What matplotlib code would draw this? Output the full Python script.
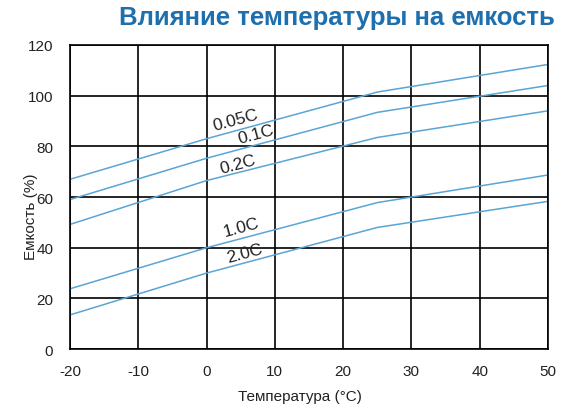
import matplotlib
matplotlib.use("Agg")
import matplotlib.pyplot as plt

# температура, °C
temp = [-20, 0, 25, 50]
# емкость (%) для разных токов разряда
cap_005 = [67, 83, 101.4, 112.3]
cap_01 = [59, 75.3, 93.4, 104]
cap_02 = [49.2, 66.5, 83.5, 94]
cap_10 = [23.8, 40, 57.8, 68.7]
cap_20 = [13.5, 30, 48, 58.3]

labels = ["0.05C", "0.1C", "0.2C", "1.0C", "2.0C"]
label_pos = [(4.2, 90.5), (7.2, 85.0), (4.6, 73.1), (5.0, 48.2), (5.6, 37.9)]

xticks = [-20, -10, 0, 10, 20, 30, 40, 50]
yticks = [0, 20, 40, 60, 80, 100, 120]

plt.rcParams['font.family'] = ['Liberation Sans', 'DejaVu Sans']
plt.rcParams['axes.unicode_minus'] = False

fig = plt.figure(figsize=(5.66, 4.10), dpi=100)
ax = fig.add_axes([0.1237, 0.146, 0.8445, 0.742])

line_color = "#5aa5d5"
for series in [cap_005, cap_01, cap_02, cap_10, cap_20]:
    ax.plot(temp, series, color=line_color, lw=1.1)

for text, (tx, ty) in zip(labels, label_pos):
    ax.text(tx, ty, text, fontsize=12.5, rotation=15, ha="center", va="center",
            color="#222222")

ax.set_xlim(-20, 50)
ax.set_ylim(0, 120)
ax.set_xticks(xticks)
ax.set_yticks(yticks)
ax.tick_params(length=0, labelsize=11, colors="#222222")
ax.tick_params(axis="x", pad=11)
ax.tick_params(axis="y", pad=12)
ax.grid(True, color="black", lw=1.2)
ax.set_axisbelow(True)
for s in ax.spines.values():
    s.set_color("black")
    s.set_linewidth(1.2)

ax.set_xlabel("Температура (°C)", fontsize=11, color="#222222")
ax.xaxis.set_label_coords(0.48, -0.13)
ax.set_ylabel("Емкость (%)", fontsize=11, color="#222222")
ax.yaxis.set_label_coords(-0.068, 0.44)

fig.text(0.596, 0.955, "Влияние температуры на емкость", fontsize=18.5,
         fontweight="bold", color="#1d6fae", ha="center", va="center")

fig.savefig("out.png", dpi=100)
